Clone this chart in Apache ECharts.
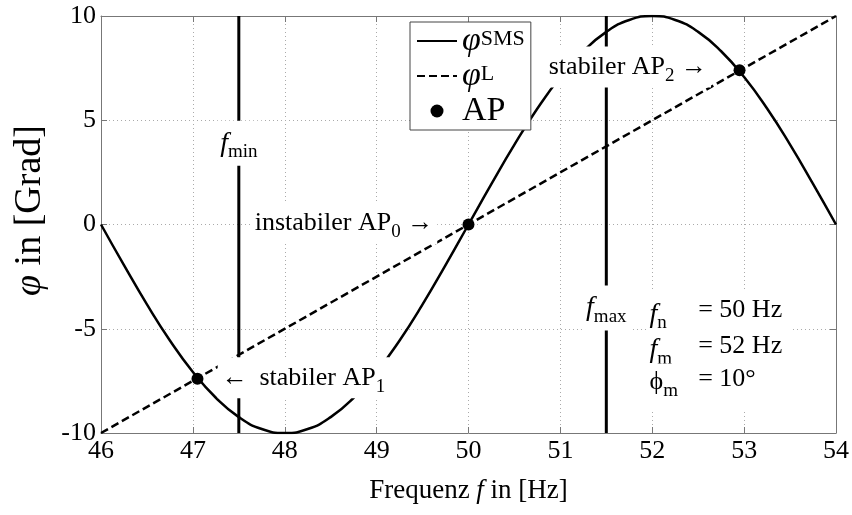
<!DOCTYPE html>
<html><head><meta charset="utf-8">
<script src="https://cdn.jsdelivr.net/npm/echarts@6/dist/echarts.min.js"></script>
<style>html,body{margin:0;padding:0;background:#fff}#c{width:852px;height:515px}</style>
</head><body><div id="c"></div>
<script>
// ---- data ----
const freq = [46,46.25,46.5,46.75,47,47.25,47.5,47.75,48,48.25,48.5,48.75,49,49.25,49.5,49.75,50,50.25,50.5,50.75,51,51.25,51.5,51.75,52,52.25,52.5,52.75,53,53.25,53.5,53.75,54];
const phiSMS = [0,-1.95,-3.83,-5.56,-7.07,-8.31,-9.24,-9.81,-10,-9.81,-9.24,-8.31,-7.07,-5.56,-3.83,-1.95,0,1.95,3.83,5.56,7.07,8.31,9.24,9.81,10,9.81,9.24,8.31,7.07,5.56,3.83,1.95,0];
const phiLFreq = [46, 54];
const phiL = [-10, 10];
const apFreq = [47.05, 50, 52.95];
const apPhi = [-7.4, 0, 7.4];
const fLimits = [47.5, 51.5];
const phiSpan = [-10, 10];
const xRange = [46, 54];
const yRange = [-10, 10];

const FONT = 'Liberation Serif, Times New Roman, serif';
const chart = echarts.init(document.getElementById('c'), null, {renderer: 'canvas'});

const zip = (a, b) => a.map((v, i) => [v, b[i]]);

const axisCommon = {
  axisLine: {show: true, onZero: false, lineStyle: {color: '#777', width: 1}},
  axisTick: {show: true, inside: true, length: 6, lineStyle: {color: '#777'}},
};

const option = {
  animation: false,
  backgroundColor: '#fff',
  textStyle: {fontFamily: FONT, color: '#000'},
  grid: {left: 101, right: 16, top: 16, bottom: 82},
  legend: {
    data: [
      {name: 'φSMS', itemStyle: {opacity: 0}},
      {name: 'φL', itemStyle: {opacity: 0}},
      {name: 'AP'}
    ],
    orient: 'vertical',
    left: 410, top: 22,
    padding: [2, 6, 2, 6],
    itemGap: 1,
    itemWidth: 40, itemHeight: 13,
    backgroundColor: '#fff',
    borderColor: '#444', borderWidth: 1, borderRadius: 0,
    formatter: function (name) {
      if (name === 'φSMS') return '{p|φ}{s|SMS}';
      if (name === 'φL') return '{p|φ}{s|L}';
      return '{a|AP}';
    },
    textStyle: {
      color: '#000',
      rich: {
        p: {fontFamily: FONT, fontStyle: 'italic', fontSize: 34, lineHeight: 22},
        s: {fontFamily: FONT, fontSize: 22, lineHeight: 22, padding: [0, 0, 3, 0]},
        a: {fontFamily: FONT, fontSize: 34, lineHeight: 24}
      }
    }
  },
  xAxis: [
    Object.assign({
      type: 'value', min: xRange[0], max: xRange[1], interval: 1, position: 'bottom',
      name: 'Frequenz {i|f} in [Hz]', nameLocation: 'middle', nameGap: 44,
      nameTextStyle: {fontFamily: FONT, fontSize: 27, color: '#000',
        rich: {i: {fontFamily: FONT, fontSize: 27, fontStyle: 'italic'}}},
      axisLabel: {fontFamily: FONT, fontSize: 26, color: '#000', margin: 5},
      splitLine: {show: true, lineStyle: {color: '#aaa', type: [1, 3], width: 1}}
    }, axisCommon),
    Object.assign({
      type: 'value', min: xRange[0], max: xRange[1], interval: 1, position: 'top',
      axisLabel: {show: false}, splitLine: {show: false}
    }, axisCommon)
  ],
  yAxis: [
    Object.assign({
      type: 'value', min: yRange[0], max: yRange[1], interval: 5, position: 'left',
      name: '{i|φ} in [Grad]', nameLocation: 'middle', nameGap: 52,
      nameTextStyle: {fontFamily: FONT, fontSize: 38, color: '#000', padding: [0, 0, 0, 28],
        rich: {i: {fontFamily: FONT, fontSize: 38, fontStyle: 'italic'}}},
      axisLabel: {fontFamily: FONT, fontSize: 26, color: '#000', margin: 5},
      splitLine: {show: true, lineStyle: {color: '#aaa', type: [1, 3], width: 1}}
    }, axisCommon),
    Object.assign({
      type: 'value', min: yRange[0], max: yRange[1], interval: 5, position: 'right',
      axisLabel: {show: false}, splitLine: {show: false}
    }, axisCommon)
  ],
  series: [
    {name: 'φSMS', type: 'line', data: zip(freq, phiSMS), smooth: true, symbol: 'none',
     lineStyle: {color: '#000', width: 2.5}, itemStyle: {color: '#000'}, z: 3},
    {name: 'φL', type: 'line', data: zip(phiLFreq, phiL), symbol: 'none',
     lineStyle: {color: '#000', width: 2.5, type: [8, 4]}, itemStyle: {color: '#000'}, z: 3},
    {name: 'AP', type: 'scatter', data: zip(apFreq, apPhi), symbol: 'circle', symbolSize: 12,
     itemStyle: {color: '#000', opacity: 1}, z: 5},
    {name: 'fmin', type: 'line', data: zip([fLimits[0], fLimits[0]], phiSpan), symbol: 'none',
     lineStyle: {color: '#000', width: 3}, z: 3},
    {name: 'fmax', type: 'line', data: zip([fLimits[1], fLimits[1]], phiSpan), symbol: 'none',
     lineStyle: {color: '#000', width: 3}, z: 3}
  ]
};
chart.setOption(option);

// ---- annotations, anchored in data coordinates ----
const px = (x, y) => chart.convertToPixel({xAxisIndex: 0, yAxisIndex: 0}, [x, y]);
const RICH = {
  m: {fontFamily: FONT, fontSize: 26, fill: '#000'},
  f: {fontFamily: FONT, fontSize: 28, fontStyle: 'italic', fill: '#000'},
  s: {fontFamily: FONT, fontSize: 19, fill: '#000', padding: [18, 0, 0, 0]},
  g: {fontFamily: FONT, fontSize: 26, fill: '#000'}
};
function label(x, y, text, align, pad) {
  const p = px(x, y);
  return {
    type: 'text', x: p[0], y: p[1], z: 100,
    style: {text: text, rich: RICH, fontFamily: FONT, fontSize: 26, fill: '#000',
      align: align, verticalAlign: 'middle', backgroundColor: '#fff', padding: pad || [3, 5]}
  };
}
const boxTL = px(51.95, -3.2), boxBR = px(53.5, -8.9);
const graphics = [
  label(fLimits[0], 3.9, '{f|f}{s|min}', 'center', [4, 6]),
  label(fLimits[1], -4.0, '{f|f}{s|max}', 'center', [4, 4]),
  {type: 'rect', z: 99, shape: {x: boxTL[0], y: boxTL[1], width: boxBR[0] - boxTL[0], height: boxBR[1] - boxTL[1]},
   style: {fill: '#fff'}},
  label(51.97, -4.3, '{f|f}{s|n}', 'left', [0, 0]),
  label(52.5, -4.1, '{m|= 50 Hz}', 'left', [0, 0]),
  label(51.97, -6.0, '{f|f}{s|m}', 'left', [0, 0]),
  label(52.5, -5.85, '{m|= 52 Hz}', 'left', [0, 0]),
  label(51.97, -7.55, '{g|ϕ}{s|m}', 'left', [0, 0]),
  label(52.5, -7.4, '{m|= 10°}', 'left', [0, 0]),
  label(47.27, -7.35, '{m|← \u2009stabiler AP}{s|1}', 'left', [2, 4]),
  label(47.63, 0.05, '{m|instabiler AP}{s|0}{m| →}', 'left', [2, 4]),
  label(50.83, 7.55, '{m|stabiler AP}{s|2}{m| →}', 'left', [2, 4])
];
chart.setOption({graphic: graphics});
</script>
</body></html>
